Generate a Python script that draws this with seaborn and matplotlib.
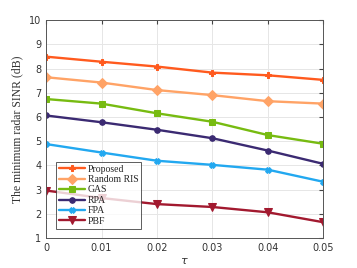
import matplotlib
matplotlib.use("Agg")
import matplotlib.pyplot as plt
import seaborn as sns
import pandas as pd

tau = [0, 0.01, 0.02, 0.03, 0.04, 0.05]
proposed = [8.49, 8.28, 8.08, 7.83, 7.72, 7.53]
random_ris = [7.64, 7.42, 7.11, 6.90, 6.65, 6.55]
gas = [6.74, 6.55, 6.15, 5.80, 5.25, 4.89]
rpa = [6.06, 5.78, 5.47, 5.12, 4.61, 4.06]
fpa = [4.88, 4.53, 4.19, 4.02, 3.82, 3.32]
pbf = [2.96, 2.65, 2.40, 2.28, 2.06, 1.65]

names = ["Proposed", "Random RIS", "GAS", "RPA", "FPA", "PBF"]
series = [proposed, random_ris, gas, rpa, fpa, pbf]
colors = ["#FF5A1E", "#FFA366", "#77BB11", "#3B2A72", "#22A8F0", "#A2192F"]
markers = ["P", "D", "s", "o", "X", "v"]
msizes = [4, 5, 4.5, 4, 4, 5.5]

rows = []
for n, s in zip(names, series):
    for t, v in zip(tau, s):
        rows.append({"tau": t, "val": v, "method": n})
df = pd.DataFrame(rows)

sns.set_style("white")
fig = plt.figure(figsize=(3.57, 2.68), dpi=100)
ax = fig.add_axes([0.129, 0.112, 0.777, 0.813])

for n, c, m, ms in zip(names, colors, markers, msizes):
    sub = df[df.method == n]
    sns.lineplot(data=sub, x="tau", y="val", ax=ax, color=c, marker=m,
                 markersize=ms, markeredgecolor=c, linewidth=1.7, label=n,
                 errorbar=None)

ax.set_xlim(0, 0.05)
ax.set_ylim(1, 10)
ax.set_xticks(tau)
ax.set_xticklabels(["0", "0.01", "0.02", "0.03", "0.04", "0.05"])
ax.set_yticks(range(1, 11))
ax.grid(True, color="#E6E6E6", linewidth=0.7)
ax.tick_params(direction="in", length=3, labelsize=7, colors="#444444",
               top=True, right=True, labelcolor="#333333")
for sp in ax.spines.values():
    sp.set_color("#555555")
    sp.set_linewidth(0.7)
ax.set_xlabel(r"$\tau$", fontsize=8, color="#333333", labelpad=2)
ax.set_ylabel("The minimum radar SINR (dB)", fontsize=8.5, family="Liberation Serif",
              color="#333333", labelpad=4)
leg = ax.legend(loc="lower left", prop={"family": "Liberation Serif", "size": 7},
                frameon=True, fancybox=False, edgecolor="#333333",
                handlelength=2.6, labelspacing=0.15, borderpad=0.3,
                handletextpad=0.3, bbox_to_anchor=(0.02, 0.02))
leg.get_frame().set_linewidth(0.7)
fig.savefig("out.png", dpi=100)
